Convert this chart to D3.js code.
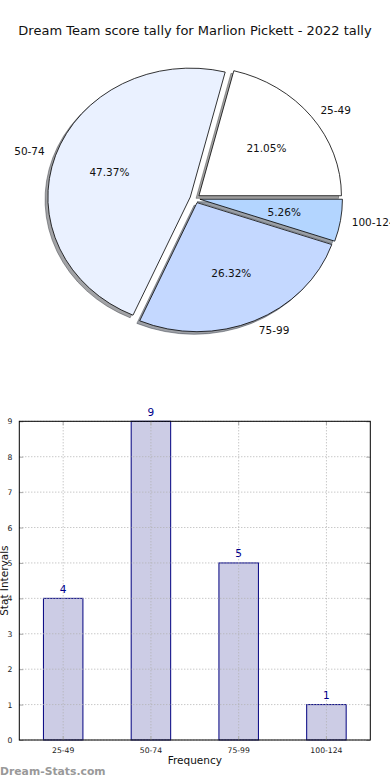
<!DOCTYPE html>
<html>
<head>
<meta charset="utf-8">
<script src="https://cdn.jsdelivr.net/npm/d3@7"></script>
<style>
html,body{margin:0;padding:0;background:#fff;}
svg{display:block;font-family:"DejaVu Sans",sans-serif;}
</style>
</head>
<body>
<svg id="chart" width="390" height="780"></svg>
<script>
const title = "Dream Team score tally for Marlion Pickett - 2022 tally";
const categories = ["25-49", "50-74", "75-99", "100-124"];
const counts = [4, 9, 5, 1];
const yTicks = [0, 1, 2, 3, 4, 5, 6, 7, 8, 9];
const pieColors = ["#ffffff", "#eaf1ff", "#c4d8ff", "#b3d5ff"];

(function () {
const svg = d3.select("#chart");

svg.append("text").attr("x", 195).attr("y", 34.5).attr("text-anchor", "middle")
  .attr("font-size", 13).attr("fill", "#111").text(title);

// ---------- Pie ----------
const cx = 195, cy = 198.5, rx = 142.5, ry = 129, explode = 0.035;
const total = d3.sum(counts);
const pie = d3.pie().sort(null).value(d => d)(counts);
const arc = d3.arc().innerRadius(0).outerRadius(1);
const slices = pie.map((p, i) => {
  const t0 = p.startAngle, t1 = p.endAngle, tm = (t0 + t1) / 2;
  const ox = explode * rx * Math.cos(tm), oy = -explode * ry * Math.sin(tm);
  return {i, t0, t1, tm, ox, oy, d3start: Math.PI / 2 - t1, d3end: Math.PI / 2 - t0};
});
const pieG = svg.append("g");
function shade(c) {
  const r = d3.rgb(c);
  return d3.rgb(r.r * 0.3, r.g * 0.3, r.b * 0.3).toString();
}
slices.forEach(s => {
  pieG.append("path")
    .attr("d", arc({startAngle: s.d3start, endAngle: s.d3end}))
    .attr("transform", `translate(${cx + s.ox - 0.02 * rx},${cy + s.oy + 0.02 * ry}) scale(${rx},${ry})`)
    .attr("fill", shade(pieColors[s.i])).attr("fill-opacity", 0.5)
    .attr("stroke", shade(pieColors[s.i])).attr("stroke-opacity", 0.5)
    .attr("vector-effect", "non-scaling-stroke").attr("stroke-width", 1);
});
slices.forEach(s => {
  pieG.append("path")
    .attr("d", arc({startAngle: s.d3start, endAngle: s.d3end}))
    .attr("transform", `translate(${cx + s.ox},${cy + s.oy}) scale(${rx},${ry})`)
    .attr("fill", pieColors[s.i]).attr("stroke", "#000")
    .attr("vector-effect", "non-scaling-stroke").attr("stroke-width", 0.8)
    .attr("stroke-linejoin", "round");
});
slices.forEach(s => {
  const lx = cx + s.ox + 1.08 * rx * Math.cos(s.tm);
  const ly = cy + s.oy - 1.08 * ry * Math.sin(s.tm);
  pieG.append("text").attr("x", lx).attr("y", ly).attr("dy", "0.35em")
    .attr("text-anchor", Math.cos(s.tm) > 0 ? "start" : "end")
    .attr("font-size", 10.5).attr("fill", "#111").text(categories[s.i]);
  const px = cx + s.ox + 0.6 * rx * Math.cos(s.tm);
  const py = cy + s.oy - 0.6 * ry * Math.sin(s.tm);
  pieG.append("text").attr("x", px).attr("y", py).attr("dy", "0.35em")
    .attr("text-anchor", "middle").attr("font-size", 10.5).attr("fill", "#111")
    .text((counts[s.i] / total * 100).toFixed(2) + "%");
});

// ---------- Bar chart ----------
const pl = 19.3, pr = 370.3, pt = 421.3, pb = 740;
const x = d3.scaleBand().domain(categories).range([pl, pr])
  .paddingInner(0.55).paddingOuter(0.275);
const y = d3.scaleLinear().domain([0, 9]).range([pb, pt]);
const barG = svg.append("g");

barG.selectAll("rect.bar").data(counts).join("rect")
  .attr("x", (d, i) => x(categories[i]))
  .attr("y", d => y(d))
  .attr("width", x.bandwidth())
  .attr("height", d => y(0) - y(d))
  .attr("fill", "#ccccE5").attr("stroke", "#000080").attr("stroke-width", 1);

barG.selectAll("line.hg").data(yTicks).join("line")
  .attr("x1", pl).attr("x2", pr)
  .attr("y1", d => y(d)).attr("y2", d => y(d))
  .attr("stroke", "#b0b0b0").attr("stroke-width", 1).attr("stroke-dasharray", "1,2");
barG.selectAll("line.vg").data(categories).join("line")
  .attr("x1", d => x(d) + x.bandwidth() / 2).attr("x2", d => x(d) + x.bandwidth() / 2)
  .attr("y1", pt).attr("y2", pb)
  .attr("stroke", "#b0b0b0").attr("stroke-width", 1).attr("stroke-dasharray", "1,2");

const axL = d3.axisLeft(y).tickValues(yTicks).tickSizeInner(-4).tickSizeOuter(0).tickPadding(7);
const axR = d3.axisRight(y).tickValues(yTicks).tickSizeInner(-4).tickSizeOuter(0).tickFormat("");
const axB = d3.axisBottom(x).tickSizeInner(-4).tickSizeOuter(0).tickPadding(8);
const axT = d3.axisTop(x).tickSizeInner(-4).tickSizeOuter(0).tickFormat("");
function style(g) {
  g.select(".domain").remove();
  g.selectAll(".tick line").attr("stroke", "#aaa");
  g.selectAll("text").attr("font-family", "DejaVu Sans").attr("font-size", 7.7).attr("fill", "#222");
}
barG.append("g").attr("transform", `translate(${pl},0)`).call(axL).call(style);
barG.append("g").attr("transform", `translate(${pr},0)`).call(axR).call(style);
barG.append("g").attr("transform", `translate(0,${pb})`).call(axB).call(style);
barG.append("g").attr("transform", `translate(0,${pt})`).call(axT).call(style);

barG.append("rect").attr("x", pl).attr("y", pt).attr("width", pr - pl).attr("height", pb - pt)
  .attr("fill", "none").attr("stroke", "#000").attr("stroke-width", 1);

barG.selectAll("text.val").data(counts).join("text")
  .attr("x", (d, i) => x(categories[i]) + x.bandwidth() / 2)
  .attr("y", d => y(d) - 5.5)
  .attr("text-anchor", "middle").attr("font-size", 10.5).attr("fill", "#00008b")
  .text(d => d);

svg.append("text").attr("x", (pl + pr) / 2).attr("y", 764).attr("text-anchor", "middle")
  .attr("font-size", 10.5).attr("fill", "#111").text("Frequency");
svg.append("text").attr("transform", `translate(7.5,${(pt + pb) / 2}) rotate(-90)`)
  .attr("text-anchor", "middle").attr("font-size", 10.5).attr("fill", "#111").text("Stat Intervals");

svg.append("text").attr("x", 0).attr("y", 775).attr("font-size", 10.8).attr("font-weight", "bold")
  .attr("fill", "#999").text("Dream-Stats.com");
})();
</script>
</body>
</html>
